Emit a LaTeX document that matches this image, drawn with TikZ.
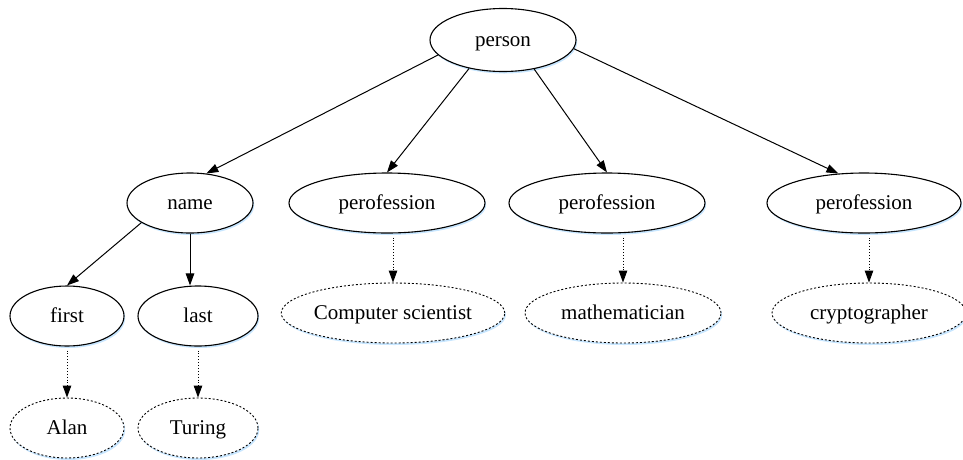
\documentclass[tikz,border=0pt]{standalone}
\usepackage{fontspec}
\setmainfont{Liberation Serif}
\usetikzlibrary{shapes.geometric,arrows.meta,shadows}
\begin{document}
\begin{tikzpicture}[x=1pt,y=-1pt,
  every node/.style={font=\fontsize{21}{25}\selectfont,text height=12pt,text depth=0pt},
  shade/.style={drop shadow={shadow xshift=1.2pt,shadow yshift=-2pt,fill=blue!45!cyan,opacity=0.22}},
  entity/.style={ellipse,draw,line width=1.1pt,fill=white,inner sep=0pt,shade},
  value/.style={ellipse,draw,line width=0.9pt,dash pattern=on 2pt off 2pt,fill=white,inner sep=0pt,shade},
  link/.style={line width=1pt,-{Triangle[length=12pt,width=8.5pt]}},
  vlink/.style={line width=0.9pt,dotted,-{Triangle[length=12pt,width=8.5pt]}}
]
\useasboundingbox (0,0) rectangle (963,459);
% tree of entities
\node[entity,minimum width=146pt,minimum height=63pt] (person) at (503,40) {person};
\node[entity,minimum width=126pt,minimum height=60pt] (name) at (190,203) {name};
\node[entity,minimum width=196pt,minimum height=60pt] (prof1) at (387,203) {perofession};
\node[entity,minimum width=196pt,minimum height=60pt] (prof2) at (607,203) {perofession};
\node[entity,minimum width=194pt,minimum height=60pt] (prof3) at (864,203) {perofession};
\node[entity,minimum width=114pt,minimum height=60pt] (first) at (67,316) {first};
\node[entity,minimum width=120pt,minimum height=60pt] (last) at (198,316) {last};
% leaf values
\node[value,minimum width=208pt,minimum height=60pt] (cs) at (393,313) {Computer scientist};
\node[value,minimum width=196pt,minimum height=60pt] (math) at (623,313) {mathematician};
\node[value,minimum width=194pt,minimum height=60pt] (crypt) at (869,313) {cryptographer};
\node[value,minimum width=114pt,minimum height=60pt] (alan) at (67,428) {Alan};
\node[value,minimum width=120pt,minimum height=60pt] (turing) at (198,428) {Turing};
% solid links
\draw[link] (person.193) -- (name.61);
\draw[link] (person.220) -- (prof1.north);
\draw[link] (person.317) -- (prof2.north);
\draw[link] (person.353) -- (prof3.131);
\draw[link] (name.202) -- (first.north);
\draw[link] (name.south) -- (name.south |- last.north);
% dotted links, dropped straight onto each value
\draw[vlink] ([yshift=-4pt]alan.north |- first.south) -- (alan.north);
\draw[vlink] ([yshift=-4pt]turing.north |- last.south) -- (turing.north);
\draw[vlink] ([yshift=-4pt]cs.north |- prof1.south) -- (cs.north);
\draw[vlink] ([yshift=-4pt]math.north |- prof2.south) -- (math.north);
\draw[vlink] ([yshift=-4pt]crypt.north |- prof3.south) -- (crypt.north);
\end{tikzpicture}
\end{document}
